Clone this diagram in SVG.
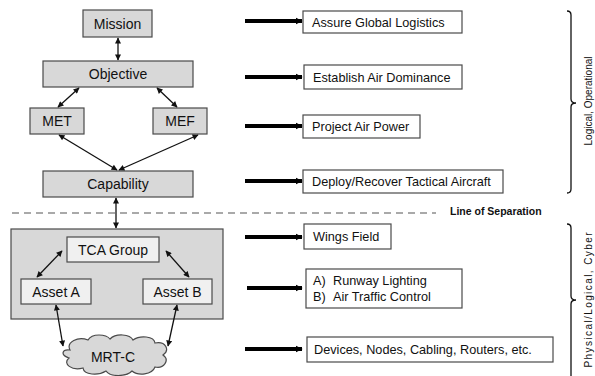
<svg xmlns="http://www.w3.org/2000/svg" width="595" height="376" viewBox="0 0 595 376">
  <style>
    .node { fill: #d8d8d8; stroke: #4a4a4a; stroke-width: 1.2; }
    .inner { fill: #f0f0f0; stroke: #4a4a4a; stroke-width: 1.2; }
    .box { fill: #ffffff; stroke: #4a4a4a; stroke-width: 1.2; }
    .lbl { font-family: "Liberation Sans", Arial, sans-serif; font-size: 14px; fill: #111; text-anchor: middle; }
    .txt { font-family: "Liberation Sans", Arial, sans-serif; font-size: 12.7px; fill: #111; }
    .link { stroke: #111; stroke-width: 1.3; fill: none; marker-start: url(#head); marker-end: url(#head); }
    .thick { stroke: #000; stroke-width: 4; fill: none; marker-end: url(#bighead); }
    .brace { stroke: #111; stroke-width: 1.3; fill: none; }
    .side { font-family: "Liberation Sans", Arial, sans-serif; font-size: 10px; fill: #111; text-anchor: middle; }
  </style>
  <defs>
    <marker id="head" viewBox="0 0 10 10" refX="9" refY="5" markerWidth="7" markerHeight="6" markerUnits="userSpaceOnUse" orient="auto-start-reverse">
      <path d="M0,0 L10,5 L0,10 Z" fill="#111"/>
    </marker>
    <marker id="bighead" viewBox="0 0 10 10" refX="9" refY="5" markerWidth="7" markerHeight="8" markerUnits="userSpaceOnUse" orient="auto">
      <path d="M0,0 L10,5 L0,10 Z" fill="#000"/>
    </marker>
  </defs>

  <!-- upper (logical) hierarchy -->
  <g id="mission"><rect class="node" x="83" y="10" width="69" height="27"/><text class="lbl" x="117.5" y="28.5">Mission</text></g>
  <g id="objective"><rect class="node" x="43" y="61" width="150" height="26"/><text class="lbl" x="118" y="79">Objective</text></g>
  <g id="met"><rect class="node" x="30" y="108" width="54" height="26"/><text class="lbl" x="57" y="126">MET</text></g>
  <g id="mef"><rect class="node" x="153" y="108" width="54" height="26"/><text class="lbl" x="180" y="126">MEF</text></g>
  <g id="capability"><rect class="node" x="43" y="171" width="150" height="26"/><text class="lbl" x="118" y="189">Capability</text></g>

  <!-- lower (physical) group -->
  <g id="asset-group"><rect class="node" x="11" y="229" width="212" height="90"/></g>
  <g id="tca-group"><rect class="inner" x="67" y="237" width="92" height="25"/><text class="lbl" x="113" y="254.5">TCA Group</text></g>
  <g id="asset-a"><rect class="inner" x="21" y="279" width="70" height="25"/><text class="lbl" x="56" y="296.5">Asset A</text></g>
  <g id="asset-b"><rect class="inner" x="143" y="279" width="69" height="25"/><text class="lbl" x="177.5" y="296.5">Asset B</text></g>
  <g id="mrt-c">
    <path class="node" d="M70,350 C66,342 78,336 88,340 C92,333 106,334 110,339 C116,333 130,334 133,340 C140,335 154,336 155,343 C166,341 170,350 163,355 C170,360 164,369 155,367 C152,375 138,376 132,371 C126,377 110,377 106,371 C98,376 84,375 83,368 C72,371 62,364 69,358 C60,355 62,349 70,350 Z"/>
    <text class="lbl" x="113" y="362">MRT-C</text>
  </g>

  <!-- connectors -->
  <g id="connectors">
    <line class="link" x1="118" y1="38" x2="118" y2="60"/>
    <line class="link" x1="79" y1="88" x2="58" y2="107"/>
    <line class="link" x1="157" y1="88" x2="177" y2="107"/>
    <line class="link" x1="59" y1="135" x2="117" y2="170"/>
    <line class="link" x1="198" y1="135" x2="119" y2="170"/>
    <line class="link" x1="116" y1="198" x2="116" y2="228"/>
    <line class="link" x1="62" y1="251" x2="37" y2="277"/>
    <line class="link" x1="166" y1="251" x2="189" y2="277"/>
    <line class="link" x1="56" y1="305" x2="63" y2="346"/>
    <line class="link" x1="177" y1="305" x2="168" y2="346"/>

    <line class="thick" x1="245" y1="21" x2="302" y2="21"/>
    <line class="thick" x1="245" y1="77" x2="302" y2="77"/>
    <line class="thick" x1="245" y1="126" x2="302" y2="126"/>
    <line class="thick" x1="245" y1="181" x2="302" y2="181"/>
    <line class="thick" x1="245" y1="237" x2="302" y2="237"/>
    <line class="thick" x1="247" y1="288" x2="302" y2="288"/>
    <line class="thick" x1="245" y1="349" x2="302" y2="349"/>
  </g>

  <!-- separation line -->
  <g id="separation">
    <line x1="12" y1="213" x2="436" y2="213" stroke="#555" stroke-width="1.2" stroke-dasharray="7,5"/>
    <text x="450" y="214.5" font-family="Liberation Sans, Arial, sans-serif" font-size="10.5" font-weight="bold" fill="#111">Line of Separation</text>
  </g>

  <!-- right-hand descriptions -->
  <g id="global-logistics"><rect class="box" x="303" y="11" width="159" height="22"/><text class="txt" x="312" y="26.5">Assure Global Logistics</text></g>
  <g id="air-dominance"><rect class="box" x="304" y="65" width="158" height="24"/><text class="txt" x="313" y="81.5">Establish Air Dominance</text></g>
  <g id="air-power"><rect class="box" x="303" y="115" width="117" height="23"/><text class="txt" x="312" y="131">Project Air Power</text></g>
  <g id="tactical-aircraft"><rect class="box" x="303" y="170" width="200" height="23"/><text class="txt" x="312" y="186">Deploy/Recover Tactical Aircraft</text></g>
  <g id="wings-field"><rect class="box" x="304" y="224" width="87" height="25"/><text class="txt" x="313" y="241">Wings Field</text></g>
  <g id="runway-atc"><rect class="box" x="306" y="269" width="156" height="39"/>
    <text class="txt" x="313" y="285">A)</text><text class="txt" x="333" y="285">Runway Lighting</text>
    <text class="txt" x="313" y="301">B)</text><text class="txt" x="333" y="301">Air Traffic Control</text>
  </g>
  <g id="devices"><rect class="box" x="307" y="337" width="246" height="25"/><text class="txt" x="314" y="354">Devices, Nodes, Cabling, Routers, etc.</text></g>

  <!-- braces and side labels -->
  <g id="logical-brace">
    <path class="brace" d="M567,11 Q571,11 571,15 L571,99 Q571,103 576,103 Q571,103 571,107 L571,189 Q571,193 567,193"/>
    <text class="side" transform="translate(592,101) rotate(-90)">Logical, Operational</text>
  </g>
  <g id="physical-brace">
    <path class="brace" d="M567,224 Q571,224 571,228 L571,296 Q571,300 576,300 Q571,300 571,304 L571,380"/>
    <text class="side" transform="translate(592,300) rotate(-90)" textLength="135" lengthAdjust="spacing">Physical/Logical, Cyber</text>
  </g>
</svg>
